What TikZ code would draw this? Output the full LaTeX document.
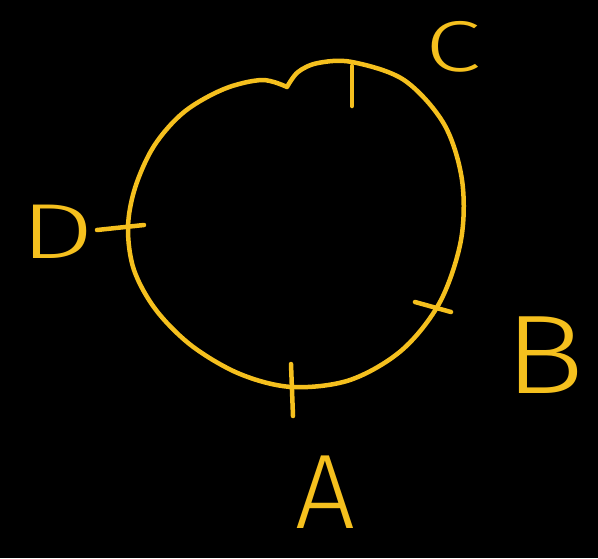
\documentclass[tikz,border=0pt]{standalone}
\usepackage{fontspec}
\newfontfamily\hand{Fira Sans}[UprightFont={* Light}]
\definecolor{pen}{RGB}{245,192,30}
\tikzset{
  stroke/.style={draw=pen, line width=4.5pt, line cap=round, line join=round},
  letter/.style={text=pen, inner sep=0pt, font=\hand},
}
\begin{document}
\begin{tikzpicture}[x=1pt,y=-1pt]
\fill[black] (0,0) rectangle (598,558);
\useasboundingbox (0,0) rectangle (598,558);
% hand-drawn circle
\draw[stroke] plot[smooth, tension=0.55] coordinates {
  (287,87) (262,80) (224,89) (184,112) (154,146) (135,188) (128,228)
  (134,270) (156,310) (192,346) (240,374) (292,387) (350,380) (402,350)
  (440,302) (461,240) (462,180) (444,124) (404,80) (352,62) (318,63)
  (298,72) (287,87)};
% tick marks
\coordinate (tc1) at (352,66);  \coordinate (tc2) at (352,106);
\coordinate (tb1) at (415,302); \coordinate (tb2) at (451,312);
\coordinate (ta1) at (291,364); \coordinate (ta2) at (293,416);
\coordinate (td1) at (97,230);  \coordinate (td2) at (144,225);
\draw[stroke] (tc1) -- (tc2);
\draw[stroke] (tb1) -- (tb2);
\draw[stroke] (ta1) -- (ta2);
\draw[stroke] (td1) -- (td2);
% labels
\node[letter, font=\hand\fontsize{72}{72}\selectfont, xscale=1.4] (C) at (453,47) {C};
\node[letter, font=\hand\fontsize{112}{112}\selectfont, xscale=1.2] (B) at (545,355) {B};
\node[letter, font=\hand\fontsize{106}{106}\selectfont] (A) at (325,492) {A};
\node[letter, font=\hand\fontsize{78}{78}\selectfont, xscale=1.5] (D) at (57,232) {D};
\end{tikzpicture}
\end{document}
